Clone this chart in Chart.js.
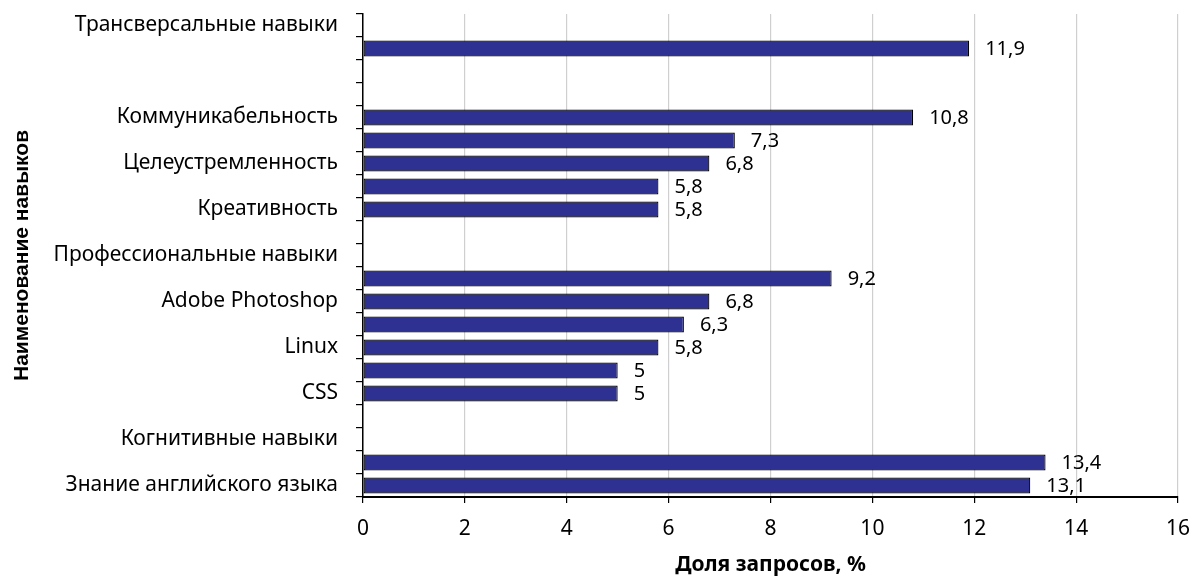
<!DOCTYPE html>
<html>
<head>
<meta charset="utf-8">
<script src="https://cdn.jsdelivr.net/npm/chart.js@4/dist/chart.umd.min.js"></script>
<style>
  html, body { margin: 0; padding: 0; background: #ffffff; }
  #wrap { width: 1192px; height: 576px; }
</style>
</head>
<body>
<div id="wrap"><canvas id="chart" width="1192" height="576"></canvas></div>
<script>
// Skill names, top to bottom (blank where the row has no printed name)
const categories = [
  'Трансверсальные навыки', '', '', '',
  'Коммуникабельность', '', 'Целеустремленность', '', 'Креативность', '',
  'Профессиональные навыки', '', 'Adobe Photoshop', '', 'Linux', '', 'CSS', '',
  'Когнитивные навыки', '', 'Знание английского языка'
];

// Share of requests, %
const shares = [
  null, 11.9, null, null,
  10.8, 7.3, 6.8, 5.8, 5.8, null,
  null, 9.2, 6.8, 6.3, 5.8, 5, 5, null,
  null, 13.4, 13.1
];

// Value axis tick labels
const xTickValues = [0, 2, 4, 6, 8, 10, 12, 14, 16];

const FONT = '"Noto Sans", "Open Sans", sans-serif';

// Writes each value (decimal comma) just past the end of its bar
const valueLabels = {
  id: 'valueLabels',
  afterDatasetsDraw(chart) {
    const ctx = chart.ctx;
    const meta = chart.getDatasetMeta(0);
    ctx.save();
    ctx.font = '20px ' + FONT;
    ctx.fillStyle = '#000000';
    ctx.textAlign = 'left';
    ctx.textBaseline = 'middle';
    meta.data.forEach((bar, i) => {
      const v = shares[i];
      if (v === null || v === undefined) return;
      ctx.fillText(String(v).replace('.', ','), bar.x + 16, bar.y + 1);
    });
    ctx.restore();
  }
};

new Chart(document.getElementById('chart'), {
  type: 'bar',
  data: {
    labels: categories,
    datasets: [{
      data: shares,
      backgroundColor: '#2e3192',
      borderColor: '#000000',
      borderWidth: 1.2,
      borderSkipped: false,
      barPercentage: 0.7,
      categoryPercentage: 1.0
    }]
  },
  options: {
    indexAxis: 'y',
    responsive: false,
    animation: false,
    devicePixelRatio: 1,
    layout: { padding: { top: 14, right: 14, left: 0, bottom: 0 } },
    plugins: {
      legend: { display: false },
      tooltip: { enabled: false }
    },
    scales: {
      x: {
        type: 'linear',
        min: 0,
        max: 16,
        afterBuildTicks: (scale) => {
          scale.ticks = xTickValues.map(v => ({ value: v }));
        },
        ticks: {
          color: '#000000',
          font: { family: FONT, size: 21 },
          padding: 13,
          maxRotation: 0
        },
        grid: {
          color: '#cfcfcf',
          lineWidth: 1.2,
          drawTicks: true,
          tickLength: 6,
          tickColor: '#000000',
          tickWidth: 1.2
        },
        border: { display: true, color: '#000000', width: 2 },
        title: {
          display: true,
          text: 'Доля запросов, %',
          color: '#000000',
          font: { family: FONT, size: 21, weight: 'bold' },
          padding: { top: 0, bottom: -2 }
        },
        afterFit: (scale) => {
          scale.height = 79;
          scale.paddingLeft = 0;
          scale.paddingRight = 0;
        }
      },
      y: {
        type: 'category',
        ticks: {
          autoSkip: false,
          color: '#000000',
          font: { family: FONT, size: 21 },
          padding: 18
        },
        grid: {
          offset: true,
          drawOnChartArea: false,
          drawTicks: true,
          tickLength: 7,
          color: '#000000',
          tickColor: '#000000',
          lineWidth: 1.2
        },
        border: { display: true, color: '#000000', width: 1.5 },
        title: {
          display: true,
          text: 'Наименование навыков',
          color: '#000000',
          font: { family: '"Liberation Sans", Arial, sans-serif', size: 21, weight: 'bold' },
          padding: { top: 9.5, bottom: 0 }
        },
        afterFit: (scale) => {
          scale.width = 363;
          scale.paddingTop = 0;
          scale.paddingBottom = 0;
        }
      }
    }
  },
  plugins: [valueLabels]
});
</script>
</body>
</html>
